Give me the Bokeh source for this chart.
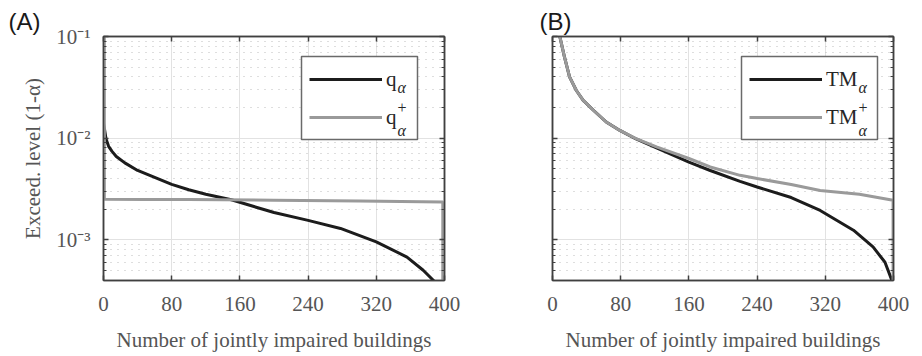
import math
from bokeh.plotting import figure
from bokeh.layouts import row
from bokeh.models import (FixedTicker, CustomJSTickFormatter, Legend, LegendItem,
                          LinearAxis, LogAxis, Range1d, BoxAnnotation)
from bokeh.core.properties import value
from bokeh.embed import file_html
from bokeh.resources import INLINE

# ---------------- data ----------------
x_ticks = [0, 80, 160, 240, 320, 400]
y_ticks = [1e-3, 1e-2, 1e-1]
y_tick_labels = ["10⁻³", "10⁻²", "10⁻¹"]
y_minor_ticks = [m * 10.0 ** e for e in (-4, -3, -2) for m in range(2, 10)]

# Panel A
n_q = [0, 1, 3, 6, 10, 15, 25, 40, 60, 80, 100, 120, 150, 200, 240, 278, 320, 356, 375, 388]
q_alpha = [0.014, 0.0125, 0.0098, 0.0083, 0.0074, 0.0066, 0.0057, 0.0048, 0.0041, 0.0035,
           0.0031, 0.0028, 0.00247, 0.00185, 0.00155, 0.00129, 0.00095, 0.000675, 0.0005, 0.00039]
n_q_plus = [1, 1, 50, 100, 200, 300, 398, 398]
q_alpha_plus = [0.1, 0.0025, 0.00249, 0.00248, 0.00245, 0.0024, 0.00235, 0.0003]

# Panel B
n_tm = [8, 14, 20, 28, 36, 48, 63, 79, 98, 122, 160, 185, 220, 240, 280, 314, 353, 376, 390, 398]
tm_alpha = [0.105, 0.063, 0.040, 0.0294, 0.0235, 0.0188, 0.0144, 0.0119, 0.0098, 0.0080, 0.0058,
            0.0048, 0.00375, 0.0033, 0.0026, 0.00194, 0.00124, 0.00085, 0.0006, 0.0004]
n_tm_plus = [8, 14, 20, 28, 36, 48, 63, 79, 98, 122, 160, 185, 220, 240, 280, 314, 360, 399.5, 399.5]
tm_alpha_plus = [0.105, 0.063, 0.040, 0.0294, 0.0235, 0.0188, 0.0144, 0.0119, 0.0099, 0.0082, 0.0063,
                 0.0052, 0.0043, 0.0040, 0.0035, 0.00305, 0.0028, 0.00245, 0.0003]

x_label = "Number of jointly impaired buildings"
y_label = "Exceed. level (1-α)"
legend_sub_sup = ["α", "+", "α"]

# ---------------- style ----------------
SERIF = "Liberation Serif"
SANS = "Liberation Sans"
FRAME_W, FRAME_H = 341, 244
TOP, BOTTOM = 36, 74
Y_MAX = 0.1
Y_MIN = 10 ** (-1 - FRAME_H / 101.6)
BLACK = "#1c1c1c"
GREY = "#9a9a9a"
AX = "#404040"
TXT = "#555555"

EMPTY = "return '';"


def make_panel(left, right, show_ylabels, title, title_offset):
    p = figure(output_backend="svg", toolbar_location=None, y_axis_type="log",
               x_range=Range1d(0, 400), y_range=Range1d(Y_MIN, Y_MAX),
               frame_width=FRAME_W, frame_height=FRAME_H,
               min_border_left=left, min_border_right=right,
               min_border_top=TOP, min_border_bottom=BOTTOM,
               background_fill_color="white", border_fill_color="white")
    p.outline_line_color = AX
    p.outline_line_width = 1.5

    p.title.text = title
    p.title.text_font = SANS
    p.title.text_font_size = "24px"
    p.title.text_font_style = "normal"
    p.title.text_color = "#1a1a1a"
    p.title.align = "left"
    p.title.offset = title_offset
    p.title.standoff = 4

    p.xaxis.ticker = FixedTicker(ticks=x_ticks)
    p.yaxis.ticker = FixedTicker(ticks=y_ticks, minor_ticks=y_minor_ticks)
    if show_ylabels:
        p.yaxis.formatter = CustomJSTickFormatter(
            args=dict(tvals=y_ticks, tlabels=y_tick_labels),
            code="""
            for (let i = 0; i < tvals.length; i++) {
              if (Math.abs(Math.log10(tvals[i]) - Math.log10(tick)) < 1e-6) return tlabels[i];
            }
            return '';
            """)
        p.yaxis.axis_label = y_label
    else:
        p.yaxis.formatter = CustomJSTickFormatter(code=EMPTY)
        p.yaxis.major_label_standoff = 0

    p.xaxis.axis_label = x_label
    for ax in p.axis:
        ax.major_tick_in = 5
        ax.major_tick_out = 0
        ax.minor_tick_in = 3
        ax.minor_tick_out = 0
        ax.axis_line_color = AX
        ax.axis_line_width = 1.5
        ax.major_tick_line_color = AX
        ax.minor_tick_line_color = AX
        ax.major_tick_line_width = 1.5
        ax.major_label_text_font = SERIF
        ax.major_label_text_color = TXT
        ax.major_label_text_font_size = "21px"
        ax.axis_label_text_font = SERIF
        ax.axis_label_text_font_style = "normal"
        ax.axis_label_text_color = TXT
        ax.axis_label_text_font_size = "21px"
    if show_ylabels:
        p.yaxis.major_label_standoff = 13
        p.yaxis.axis_label_standoff = 8
    p.xaxis.major_label_standoff = 16
    p.xaxis.axis_label_standoff = 14
    p.xaxis.minor_tick_in = 0

    # mirrored ticks (box)
    top_ax = LinearAxis(ticker=FixedTicker(ticks=x_ticks),
                        formatter=CustomJSTickFormatter(code=EMPTY),
                        major_label_text_font_size="1px",
                        major_tick_in=5, major_tick_out=0, minor_tick_in=0, minor_tick_out=0,
                        axis_line_color=AX, axis_line_width=1.5, major_tick_line_color=AX,
                        major_tick_line_width=1.5, major_label_standoff=0)
    right_ax = LogAxis(ticker=FixedTicker(ticks=y_ticks, minor_ticks=y_minor_ticks),
                       formatter=CustomJSTickFormatter(code=EMPTY),
                       major_label_text_font_size="1px",
                       major_tick_in=5, major_tick_out=0, minor_tick_in=3, minor_tick_out=0,
                       axis_line_color=AX, axis_line_width=1.5, major_tick_line_color=AX,
                       major_tick_line_width=1.5, minor_tick_line_color=AX, major_label_standoff=0)
    p.add_layout(top_ax, "above")
    p.add_layout(right_ax, "right")

    p.xgrid.grid_line_color = "#e2e2e2"
    p.xgrid.grid_line_width = 1
    p.ygrid.grid_line_color = "#e2e2e2"
    p.ygrid.grid_line_width = 1
    p.ygrid.minor_grid_line_color = "#bdbdbd"
    p.ygrid.minor_grid_line_dash = "1 6"
    p.ygrid.minor_grid_line_width = 1
    return p


def px_to_x(px, frame_left):
    return (px - frame_left) / FRAME_W * 400


def py_to_y(py):
    span = math.log10(Y_MAX / Y_MIN)
    return 10 ** (math.log10(Y_MAX) - (py - 36) / FRAME_H * span)


def add_legend(p, r1, r2, text, frame_left, box_left, box_right, label_width):
    # legend box drawn underneath (white, bordered)
    p.add_layout(BoxAnnotation(left=px_to_x(box_left, frame_left), right=px_to_x(box_right, frame_left),
                               top=py_to_y(56), bottom=py_to_y(139), level="underlay",
                               fill_color="white", fill_alpha=1.0,
                               line_color="#6a6a6a", line_width=1.5, line_alpha=1.0))
    leg = Legend(items=[LegendItem(label=text, renderers=[r1]),
                        LegendItem(label=text, renderers=[r2])],
                 location=(box_left - frame_left, 141), glyph_width=73, glyph_height=28,
                 label_height=28, label_width=label_width, label_standoff=4, padding=8,
                 spacing=10, margin=0, border_line_alpha=0.0,
                 background_fill_alpha=0.0,
                 label_text_font=SERIF, label_text_font_size="21px", label_text_color="#262626")
    p.add_layout(leg, "center")


def sub_sup(p, frame_left, px, pys):
    xs = [px_to_x(px, frame_left)] * len(pys)
    ys = [py_to_y(v) for v in pys]
    styles = ["italic" if t == "α" else "normal" for t in legend_sub_sup]
    for x, y, t, s in zip(xs, ys, legend_sub_sup, styles):
        p.text(x=[x], y=[y], text=[t], level="overlay",
               text_font=value(SERIF), text_font_size="16px", text_font_style=s,
               text_color="#262626", text_baseline="middle", text_align="left")


# ---------- Panel A ----------
A_LEFT = 103
pA = make_panel(103, 50, True, "(A)", -95)
rA1 = pA.line(n_q, q_alpha, line_color=BLACK, line_width=3)
rA2 = pA.line(n_q_plus, q_alpha_plus, line_color=GREY, line_width=3)
add_legend(pA, rA1, rA2, "q", A_LEFT, 301, 417, 27)
sub_sup(pA, A_LEFT, 397, [87, 107, 130])

# ---------- Panel B ----------
B_LEFT = 552
pB = make_panel(58, 21, False, "(B)", -13)
rB1 = pB.line(n_tm, tm_alpha, line_color=BLACK, line_width=3)
rB2 = pB.line(n_tm_plus, tm_alpha_plus, line_color=GREY, line_width=3)
add_legend(pB, rB1, rB2, "TM", B_LEFT, 741, 877, 50)
sub_sup(pB, B_LEFT, 858, [87, 107, 130])

layout = row(pA, pB)
open("out.html", "w").write(file_html(layout, INLINE))
